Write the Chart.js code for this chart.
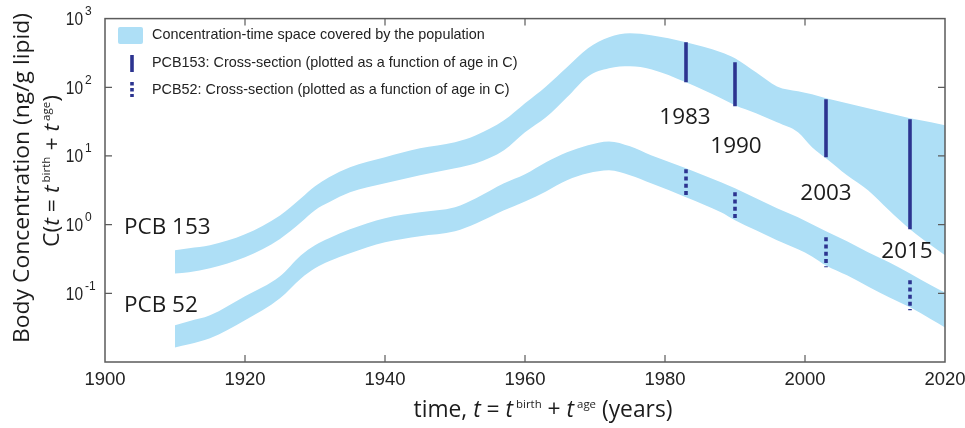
<!DOCTYPE html>
<html>
<head>
<meta charset="utf-8">
<script src="https://cdn.jsdelivr.net/npm/chart.js@4/dist/chart.umd.min.js"></script>
<style>
  html, body { margin: 0; padding: 0; background: #fff; }
  canvas { display: block; }
</style>
</head>
<body>
<canvas id="chart" width="965" height="428"></canvas>
<script>
// Sampling years for the population envelopes
const years = [1910, 1912, 1915, 1920, 1925, 1928, 1930, 1932, 1935, 1940, 1945, 1950, 1953, 1957, 1960,
  1963, 1966, 1969, 1972, 1975, 1978, 1983, 1988, 1990, 1993, 1996, 1999, 2001, 2003, 2006, 2009,
  2012, 2015, 2018, 2020];

// PCB 153 envelope, ng/g lipid (upper and lower edge)
const pcb153High = [0.423, 0.452, 0.500, 0.722, 1.36, 2.42, 3.61, 4.89, 6.83, 9.55, 12.9, 15.8, 20.0, 33.0, 58.4,
  103, 195, 369, 534, 611, 571, 452, 323, 264, 165, 103, 87.3, 78.9, 69.0, 58.4, 49.4,
  41.8, 35.3, 30.9, 27.9];
const pcb153Low = [0.195, 0.202, 0.231, 0.334, 0.620, 1.08, 1.62, 2.11, 2.95, 3.99, 5.22, 6.61, 7.81, 12.1, 22.1,
  36.5, 71.4, 144, 189, 202, 183, 118, 69.0, 54.6, 41.8, 30.9, 22.1, 13.4, 9.23, 5.22, 3.16,
  1.62, 0.855, 0.500, 0.357];

// PCB 52 envelope, ng/g lipid
const pcb52High = [0.0342, 0.0391, 0.0478, 0.0903, 0.177, 0.357, 0.500, 0.632, 0.855, 1.24, 1.51, 1.79, 2.42, 3.99, 5.40,
  8.08, 11.3, 14.3, 16.3, 13.8, 10.2, 6.61, 4.13, 3.38, 2.42, 1.73, 1.28, 1.01, 0.799, 0.571, 0.395,
  0.283, 0.195, 0.131, 0.103];
const pcb52Low = [0.0163, 0.0181, 0.0221, 0.0404, 0.0845, 0.165, 0.231, 0.292, 0.382, 0.552, 0.676, 0.799, 1.04, 1.62, 2.18,
  3.05, 4.42, 5.58, 6.18, 5.22, 3.99, 2.50, 1.51, 1.16, 0.826, 0.591, 0.437, 0.345, 0.255, 0.183, 0.126,
  0.0874, 0.0625, 0.0418, 0.0319];

// Cross-sectional surveys (range of concentrations over ages)
const surveyYears = ['1983', '1990', '2003', '2015'];
const pcb153SectionTop = [452, 231, 66.8, 34.2];
const pcb153SectionBottom = [118, 52.8, 9.55, 0.855];
const pcb52SectionTop = [6.39, 2.95, 0.653, 0.155];
const pcb52SectionBottom = [2.50, 1.12, 0.239, 0.0565];

// Axis ticks
const xTickValues = [1900, 1920, 1940, 1960, 1980, 2000, 2020];
const xTickLabels = ['1900', '1920', '1940', '1960', '1980', '2000', '2020'];
const yTickExponents = ['-1', '0', '1', '2', '3'];

const BAND = '#aedff6';
const NAVY = '#2c3490';
const INK = '#1c1c1c';
const AXIS = '#5b5b5b';
const SANS = '"Liberation Sans", Arial, sans-serif';
const HUMAN = '"Open Sans", "Noto Sans", sans-serif';

const toPoints = (xs, ys) => xs.map((x, i) => ({ x: x, y: ys[i] }));

const bandStyle = {
  pointRadius: 0, borderWidth: 0, borderColor: BAND, backgroundColor: BAND,
  cubicInterpolationMode: 'monotone', order: 2
};

const datasets = [
  Object.assign({ label: 'PCB 153 upper', data: toPoints(years, pcb153High), fill: '+1' }, bandStyle),
  Object.assign({ label: 'PCB 153 lower', data: toPoints(years, pcb153Low), fill: false }, bandStyle),
  Object.assign({ label: 'PCB 52 upper', data: toPoints(years, pcb52High), fill: '+1' }, bandStyle),
  Object.assign({ label: 'PCB 52 lower', data: toPoints(years, pcb52Low), fill: false }, bandStyle)
];
surveyYears.forEach((yr, i) => {
  datasets.push({
    label: 'PCB153 ' + yr, order: 0,
    data: [{ x: +yr, y: pcb153SectionTop[i] }, { x: +yr, y: pcb153SectionBottom[i] }],
    borderColor: NAVY, borderWidth: 3.6, pointRadius: 0, fill: false, borderCapStyle: 'butt'
  });
  datasets.push({
    label: 'PCB52 ' + yr, order: 0,
    data: [{ x: +yr, y: pcb52SectionTop[i] }, { x: +yr, y: pcb52SectionBottom[i] }],
    borderColor: NAVY, borderWidth: 3.6, pointRadius: 0, fill: false, borderCapStyle: 'butt',
    borderDash: [4, 3.2]
  });
});

// Text made of plain, italic and superscript runs, stretched to a given length
function drawRich(ctx, parts, cx, cy, length, size, family, rotate) {
  const fonts = parts.map(p => (p.it ? 'italic ' : '') + (p.sup ? size * 0.5 : size) + 'px ' + family);
  let total = 0;
  const widths = parts.map((p, i) => { ctx.font = fonts[i]; const w = ctx.measureText(p.t).width; total += w; return w; });
  ctx.save();
  ctx.translate(cx, cy);
  if (rotate) ctx.rotate(-Math.PI / 2);
  ctx.scale(length / total, 1);
  ctx.textAlign = 'left';
  ctx.textBaseline = 'alphabetic';
  let px = -total / 2;
  const base = size * 0.36;
  parts.forEach((p, i) => {
    ctx.font = fonts[i];
    ctx.fillText(p.t, px, p.sup ? base - size * 0.42 : base);
    px += widths[i];
  });
  ctx.restore();
}

const decorations = {
  id: 'decorations',
  afterDatasetsDraw(chart) {
    const ctx = chart.ctx;
    const a = chart.chartArea;
    const xs = chart.scales.x, ys = chart.scales.y;
    ctx.save();

    // frame and inward ticks
    ctx.strokeStyle = AXIS;
    ctx.lineWidth = 1.5;
    ctx.strokeRect(a.left, a.top, a.right - a.left, a.bottom - a.top);
    ctx.lineWidth = 1.2;
    ctx.beginPath();
    xTickValues.forEach(v => {
      const px = xs.getPixelForValue(v);
      if (px > a.left + 1 && px < a.right - 1) {
        ctx.moveTo(px, a.bottom); ctx.lineTo(px, a.bottom - 7);
        ctx.moveTo(px, a.top); ctx.lineTo(px, a.top + 7);
      }
    });
    yTickExponents.forEach(e => {
      const py = ys.getPixelForValue(Math.pow(10, +e));
      if (py > a.top + 1 && py < a.bottom - 1) {
        ctx.moveTo(a.left, py); ctx.lineTo(a.left + 7, py);
        ctx.moveTo(a.right, py); ctx.lineTo(a.right - 7, py);
      }
    });
    ctx.stroke();

    // tick labels
    ctx.fillStyle = '#222';
    ctx.textBaseline = 'middle';
    ctx.textAlign = 'center';
    ctx.font = '18.5px ' + SANS;
    xTickValues.forEach((v, i) => ctx.fillText(xTickLabels[i], xs.getPixelForValue(v), a.bottom + 18));
    yTickExponents.forEach(e => {
      const py = ys.getPixelForValue(Math.pow(10, +e));
      ctx.font = '18px ' + SANS;
      ctx.textAlign = 'right';
      ctx.save();
      ctx.translate(a.left - 22, py + 1.5);
      ctx.scale(0.86, 1);
      ctx.fillText('10', 0, 0);
      ctx.restore();
      ctx.font = '12px ' + SANS;
      ctx.textAlign = 'left';
      ctx.fillText(e, a.left - 20, py - 7);
    });

    // axis titles
    ctx.fillStyle = INK;
    drawRich(ctx, [{ t: 'Body Concentration (ng/g lipid)' }], 21, 178, 330, 22, HUMAN, true);
    drawRich(ctx, [
      { t: 'C(' }, { t: 't', it: true }, { t: ' = ' }, { t: 't', it: true }, { t: ' birth', sup: true },
      { t: ' + ' }, { t: 't', it: true }, { t: ' age', sup: true }, { t: ')' }
    ], 51, 171, 152, 22, HUMAN, true);
    drawRich(ctx, [
      { t: 'time, ' }, { t: 't', it: true }, { t: ' = ' }, { t: 't', it: true }, { t: ' birth', sup: true },
      { t: ' + ' }, { t: 't', it: true }, { t: ' age', sup: true }, { t: ' (years)' }
    ], 543, 409, 259, 23, HUMAN, false);

    // chemical and survey-year labels
    ctx.font = '22.5px ' + HUMAN;
    ctx.textAlign = 'left';
    ctx.textBaseline = 'middle';
    ctx.fillText('PCB 153', 124, 228);
    ctx.fillText('PCB 52', 124, 306);
    ctx.textAlign = 'center';
    const yearLabelPos = [[685, 118], [736, 147], [826, 194], [907, 252]];
    surveyYears.forEach((yr, i) => ctx.fillText(yr, yearLabelPos[i][0], yearLabelPos[i][1]));

    // legend
    ctx.fillStyle = BAND;
    ctx.beginPath();
    ctx.roundRect(118, 27, 25, 17, 2);
    ctx.fill();
    ctx.strokeStyle = NAVY;
    ctx.lineWidth = 3.6;
    ctx.lineCap = 'butt';
    ctx.beginPath(); ctx.moveTo(132, 55); ctx.lineTo(132, 72); ctx.stroke();
    ctx.setLineDash([3.5, 2.5]);
    ctx.beginPath(); ctx.moveTo(132, 82); ctx.lineTo(132, 97); ctx.stroke();
    ctx.setLineDash([]);
    ctx.fillStyle = '#222';
    ctx.font = '14.4px ' + SANS;
    ctx.textAlign = 'left';
    ctx.textBaseline = 'middle';
    ctx.fillText('Concentration-time space covered by the population', 152, 35);
    ctx.fillText('PCB153: Cross-section (plotted as a function of age in C)', 152, 63);
    ctx.fillText('PCB52: Cross-section (plotted as a function of age in C)', 152, 90);

    ctx.restore();
  }
};

new Chart(document.getElementById('chart'), {
  type: 'line',
  data: { datasets: datasets },
  options: {
    responsive: false,
    animation: false,
    devicePixelRatio: 1,
    layout: { padding: { left: 105, top: 18.6, right: 20, bottom: 66 } },
    plugins: {
      legend: { display: false }, tooltip: { enabled: false }, title: { display: false },
      filler: { drawTime: 'beforeDatasetsDraw' }
    },
    scales: {
      x: { type: 'linear', min: 1900, max: 2020, display: false },
      y: { type: 'logarithmic', min: 0.01, max: 1000, display: false }
    }
  },
  plugins: [decorations]
});
</script>
</body>
</html>
